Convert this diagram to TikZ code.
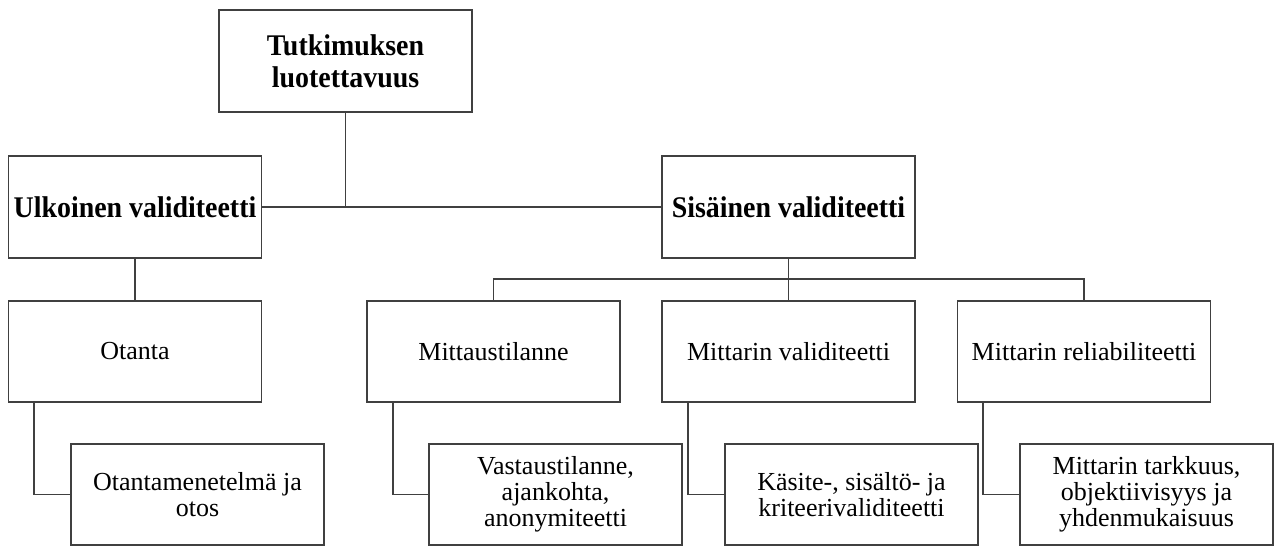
\documentclass[tikz,border=0pt]{standalone}
\usepackage{fontspec}
\usepackage{graphicx}
\setmainfont{Liberation Serif}
\newcommand\bt[1]{\scalebox{0.93}[1]{#1}}
\begin{document}
\begin{tikzpicture}[x=1pt,y=-1pt,
  box/.style={draw=black!75, line width=1.2pt, minimum width=253pt, minimum height=101pt,
    inner sep=0pt, align=center, font=\fontsize{26}{26}\selectfont},
  head/.style={box, minimum height=102pt, font=\bfseries\fontsize{30}{32}\selectfont},
  conn/.style={draw=black!75, line width=1.2pt}]
\useasboundingbox (0,0) rectangle (1274,547);
\node[head] (top) at (345.5,61) {\bt{Tutkimuksen}\\\bt{luotettavuus}};
\node[head] (ulk) at (135,207) {\bt{Ulkoinen validiteetti}};
\node[head] (sis) at (788.5,207) {\bt{Sisäinen validiteetti}};
\node[box] (otanta) at (135,351.5) {Otanta};
\node[box] (mittaus) at (493.5,351.5) {Mittaustilanne};
\node[box] (mval) at (788.5,351.5) {Mittarin validiteetti};
\node[box] (mrel) at (1084,351.5) {Mittarin reliabiliteetti};
\node[box] (otos) at (197.5,494.5) {Otantamenetelmä ja\\otos};
\node[box] (vast) at (555.5,494.5) {Vastaustilanne,\\ajankohta,\\anonymiteetti};
\node[box] (kas) at (851.5,494.5) {Käsite-, sisältö- ja\\kriteerivaliditeetti};
\node[box] (tark) at (1146.5,494.5) {Mittarin tarkkuus,\\objektiivisyys ja\\yhdenmukaisuus};
\coordinate (bus) at (0,279);
\path[conn] (ulk.east) -- (sis.west);
\path[conn] (top.south) -- (top.south |- ulk.east);
\path[conn] (ulk.south) -- (otanta.north);
\path[conn] (sis.south) -- (mval.north);
\path[conn] (mittaus.north) |- (bus -| mval.north) -| (mrel.north);
\path[conn] ([xshift=-101pt]otanta.south) |- (otos.west);
\path[conn] ([xshift=-100.5pt]mittaus.south) |- (vast.west);
\path[conn] ([xshift=-100.5pt]mval.south) |- (kas.west);
\path[conn] ([xshift=-101pt]mrel.south) |- (tark.west);
\end{tikzpicture}
\end{document}
